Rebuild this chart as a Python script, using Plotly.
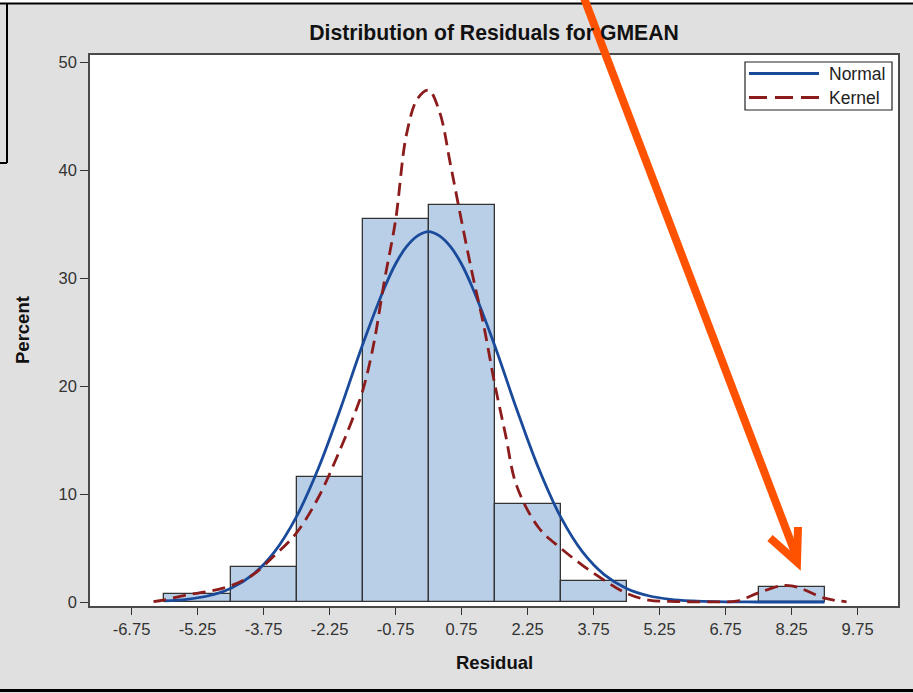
import plotly.graph_objects as go

# ---------------- data ----------------
bin_centers = [-5.25, -3.75, -2.25, -0.75, 0.75, 2.25, 3.75, 5.25, 6.75, 8.25]
bin_percent = [0.7, 3.2, 11.6, 35.5, 36.8, 9.1, 1.9, None, None, 1.4]
bin_width = 1.5

normal_x = [-6.0, -5.5, -5.0, -4.5, -4.0, -3.5, -3.0, -2.5, -2.0, -1.5, -1.0, -0.75, -0.5,
            -0.25, 0.0, 0.25, 0.5, 0.75, 1.0, 1.5, 2.0, 2.5, 3.0, 3.5, 4.0, 4.5, 5.0,
            5.5, 6.0, 6.5, 7.0, 7.5, 8.0, 8.5, 9.0]
normal_y = [0.10, 0.25, 0.58, 1.26, 2.52, 4.64, 7.90, 12.4, 17.9, 23.8, 29.1, 31.3, 32.9,
            33.9, 34.3, 33.9, 32.9, 31.3, 29.1, 23.8, 17.9, 12.4, 7.9, 4.64, 2.52, 1.26, 0.58,
            0.25, 0.10, 0.03, 0.01, 0.0, 0.0, 0.0, 0.0]

kernel_x = [-6.25, -6.0, -5.5, -5.0, -4.5, -4.0, -3.5, -3.0, -2.5, -2.0, -1.75, -1.5,
            -1.25, -1.0, -0.75, -0.5, -0.25, 0.0, 0.25, 0.5, 0.75, 1.0, 1.25, 1.5,
            1.75, 2.0, 2.5, 3.0, 3.5, 4.0, 4.5, 5.0, 5.5, 6.0, 6.5, 7.0, 7.5, 8.0,
            8.25, 8.5, 9.0, 9.5]
kernel_y = [0.03, 0.2, 0.65, 0.98, 1.5, 2.5, 4.3, 6.4, 9.7, 14.2, 16.7, 19.5,
            23.8, 29.8, 35.3, 43.3, 46.6, 47.4, 45.4, 40.5, 35.3, 30.3, 25.7, 20.3,
            15.5, 10.8, 6.9, 5.0, 3.4, 2.0, 0.8, 0.18, 0.05, 0.02, 0.02, 0.08, 0.85, 1.5,
            1.5, 1.2, 0.35, 0.02]

xtick_vals = [-6.75, -5.25, -3.75, -2.25, -0.75, 0.75, 2.25, 3.75, 5.25, 6.75, 8.25, 9.75]
xtick_text = ["-6.75", "-5.25", "-3.75", "-2.25", "-0.75", "0.75", "2.25", "3.75",
              "5.25", "6.75", "8.25", "9.75"]
ytick_vals = [0, 10, 20, 30, 40, 50]
ytick_text = ["0", "10", "20", "30", "40", "50"]

title_text = "Distribution of Residuals for GMEAN"
x_title = "Residual"
y_title = "Percent"
series_names = ["Normal", "Kernel"]

# ---------------- styling ----------------
W, H = 913, 693
ML, MR, MT, MB = 90, 15, 55, 87
PW, PH = W - ML - MR, H - MT - MB
FONT = "Liberation Sans, Arial, sans-serif"
BLUE = "#1A4A9A"
RED = "#8C1C1C"
BAR_FILL = "#B9CEE7"
ORANGE = "#FF5200"


def X(px):
    return (px - ML) / PW


def Y(py):
    return (H - MB - py) / PH


fig = go.Figure()
fig.add_trace(go.Bar(
    x=bin_centers, y=bin_percent, width=bin_width,
    marker=dict(color=BAR_FILL, line=dict(color="#333333", width=1.3)),
    showlegend=False, hoverinfo="x+y"))
fig.add_trace(go.Scatter(
    x=normal_x, y=normal_y, mode="lines", name=series_names[0],
    line=dict(color=BLUE, width=2.8, shape="spline", smoothing=1.0),
    showlegend=False))
fig.add_trace(go.Scatter(
    x=kernel_x, y=kernel_y, mode="lines", name=series_names[1],
    line=dict(color=RED, width=2.8, dash="13px,7px", shape="spline", smoothing=1.0),
    showlegend=False))

axis_common = dict(
    showgrid=False, zeroline=False, showline=True, mirror=True,
    linecolor="#4A4A4A", linewidth=1.5, ticks="outside", tickcolor="#333333",
    tickwidth=1.3, tickfont=dict(family=FONT, size=16.5, color="#333333"),
    fixedrange=True)

fig.update_xaxes(range=[-7.693, 10.67], tickvals=xtick_vals, ticktext=xtick_text,
                 ticklen=7, **axis_common)
fig.update_yaxes(range=[-0.37, 50.65], tickvals=ytick_vals, ticktext=ytick_text,
                 ticklen=8, **axis_common)

shapes = [
    # screenshot frame
    dict(type="rect", x0=X(0), x1=X(W), y0=Y(0), y1=Y(3), fillcolor="white",
         line=dict(width=0)),
    dict(type="line", x0=X(0), x1=X(W), y0=Y(3.5), y1=Y(3.5),
         line=dict(color="black", width=2)),
    dict(type="line", x0=X(7), x1=X(7), y0=Y(3), y1=Y(163),
         line=dict(color="black", width=2)),
    dict(type="line", x0=X(0), x1=X(7), y0=Y(163), y1=Y(163),
         line=dict(color="black", width=2)),
    dict(type="rect", x0=X(0), x1=X(W), y0=Y(689), y1=Y(692), fillcolor="black",
         line=dict(width=0)),
    # legend box
    dict(type="rect", x0=X(745), x1=X(892), y0=Y(62), y1=Y(110), fillcolor="white",
         line=dict(color="#222222", width=1.2)),
    dict(type="line", x0=X(749), x1=X(819), y0=Y(73.5), y1=Y(73.5),
         line=dict(color=BLUE, width=2.8)),
    dict(type="line", x0=X(749), x1=X(819), y0=Y(97.5), y1=Y(97.5),
         line=dict(color=RED, width=2.8, dash="18px,8px")),
    # orange pointer arrow
    dict(type="line", x0=X(581), x1=X(797), y0=Y(-10), y1=Y(558),
         line=dict(color=ORANGE, width=8)),
    dict(type="path",
         path=f"M {X(770)},{Y(538)} L {X(797)},{Y(562)} L {X(798)},{Y(527)}",
         line=dict(color=ORANGE, width=8)),
]
for s in shapes:
    s.update(xref="paper", yref="paper", layer="above")

annotations = [
    dict(text=f"<b>{x_title}</b>", x=X(494), y=Y(662), xanchor="center", yanchor="middle",
         font=dict(family=FONT, size=18.5, color="#111111")),
    dict(text=f"<b>{y_title}</b>", x=X(22), y=Y(330), xanchor="center", yanchor="middle",
         textangle=-90, font=dict(family=FONT, size=18.5, color="#111111")),
    dict(text=series_names[0], x=X(827), y=Y(74), xanchor="left", yanchor="middle",
         font=dict(family=FONT, size=17.5, color="#222222")),
    dict(text=series_names[1], x=X(827), y=Y(98), xanchor="left", yanchor="middle",
         font=dict(family=FONT, size=17.5, color="#222222")),
]
for a in annotations:
    a.update(xref="paper", yref="paper", showarrow=False)

fig.update_layout(
    width=W, height=H,
    margin=dict(l=ML, r=MR, t=MT, b=MB, pad=0),
    paper_bgcolor="#E0E0E0", plot_bgcolor="white",
    title=dict(text=f"<b>{title_text}</b>", x=X(494), xref="paper", xanchor="center",
               y=1 - 33 / H, yref="container", yanchor="middle",
               font=dict(family=FONT, size=21.2, color="#111111")),
    shapes=shapes, annotations=annotations,
    bargap=0, showlegend=False,
)

fig.write_html("out.html")
